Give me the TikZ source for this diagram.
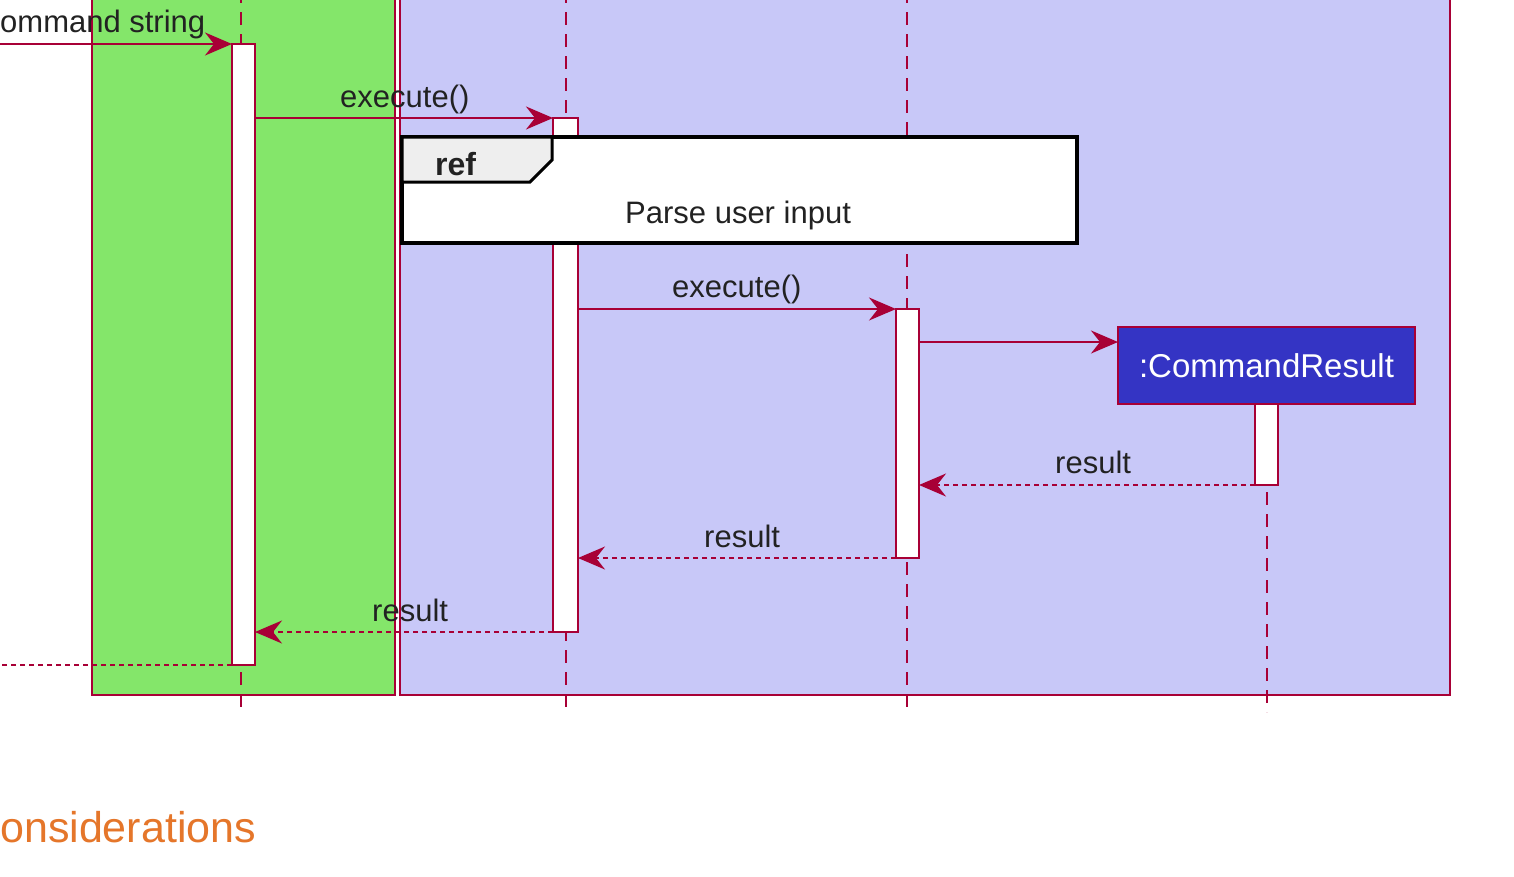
\documentclass[tikz,border=0pt]{standalone}
\usepackage{fontspec}
\setmainfont{Liberation Sans}
\usetikzlibrary{arrows.meta}
\definecolor{crim}{HTML}{A80036}
\definecolor{grn}{HTML}{84E66A}
\definecolor{lav}{HTML}{C8C8F8}
\definecolor{crblue}{HTML}{3434C4}
\definecolor{tabgray}{HTML}{EEEEEE}
\definecolor{headorange}{HTML}{E5762A}
\definecolor{txt}{HTML}{222222}
\begin{document}
\begin{tikzpicture}[x=1pt,y=-1pt,
  lifeline/.style={draw=crim, line width=1.8pt, dash pattern=on 13pt off 9pt},
  act/.style={rectangle, draw=crim, fill=white, line width=2pt, inner sep=0pt, outer sep=0pt, minimum width=23pt, anchor=north west},
  msg/.style={draw=crim, line width=2pt, -{Stealth[length=27pt,width=23pt,inset=9pt]}},
  ret/.style={msg, dash pattern=on 5pt off 4pt},
  retend/.style={draw=crim, line width=2pt, dash pattern=on 5pt off 4pt},
  lbl/.style={anchor=base west, inner sep=0pt, text=txt, font=\fontsize{31}{36}\selectfont},
  grp/.style={draw=crim, line width=2pt}
]
\useasboundingbox (0,0) rectangle (1514,876);
\clip (0,0) rectangle (1514,876);
\fill[white] (0,0) rectangle (1514,876);

% group boxes
\draw[grp, fill=grn] (92,-10) rectangle (395,695);
\draw[grp, fill=lav] (400,-10) rectangle (1450,695);

% lifelines
\coordinate (l1t) at (241,-10); \coordinate (l1b) at (241,712);
\coordinate (l2t) at (566,-10); \coordinate (l2b) at (566,712);
\coordinate (l3t) at (907,-10); \coordinate (l3b) at (907,712);
\coordinate (l4t) at (1267,404); \coordinate (l4b) at (1267,712);
\draw[lifeline] (l1t) -- (l1b);
\draw[lifeline] (l2t) -- (l2b);
\draw[lifeline] (l3t) -- (l3b);
\draw[lifeline] (l4t) -- (l4b);

% activations
\node[act, minimum height=621pt] (a1) at (232,44) {};
\node[act, minimum width=25pt, minimum height=514pt] (a2) at (553,118) {};
\node[act, minimum height=249pt] (a3) at (896,309) {};
\node[act, minimum height=81pt] (a4) at (1255,404) {};

% CommandResult participant
\node[rectangle, draw=crim, line width=2.5pt, fill=crblue, inner sep=0pt, outer sep=0pt,
      minimum width=297pt, minimum height=77pt, anchor=north west,
      text=white, font=\fontsize{33}{38}\selectfont] (cr) at (1118,327) {:CommandResult};

% ref frame
\node[rectangle, draw=black, line width=4pt, fill=white, inner sep=0pt, outer sep=0pt,
      minimum width=675pt, minimum height=106pt, anchor=north west] (ref) at (402,137) {};
\draw[black, line width=3pt, fill=tabgray, line join=miter]
  (ref.north west) -- (552,137) -- (552,160) -- (530,182) -- (ref.west |- 0,182) -- cycle;
\node[lbl, font=\bfseries\fontsize{32}{36}\selectfont] (reft) at (435,175) {ref};
\node[lbl] (parse) at (625,223) {Parse user input};

% messages
\coordinate (cin) at (-5,44);
\coordinate (cout) at (-5,665);
\draw[msg] (cin) -- (a1.north west);
\node[lbl] (m0) at (0,32) {ommand string};

\draw[msg] (a1.east |- a2.north) -- (a2.north west);
\node[lbl] (m1) at (340,107) {execute()};

\draw[msg] (a2.east |- a3.north) -- (a3.north west);
\node[lbl] (m2) at (672,297) {execute()};

\draw[msg] (a3.east |- 0,342) -- (cr.west |- 0,342);

\draw[ret] (a4.south west) -- (a3.east |- a4.south);
\node[lbl] (r1) at (1055,473) {result};

\draw[ret] (a3.south west) -- (a2.east |- a3.south);
\node[lbl] (r2) at (704,547) {result};

\draw[ret] (a2.south west) -- (a1.east |- a2.south);
\node[lbl] (r3) at (372,621) {result};

\draw[retend] (a1.south west) -- (cout);

% heading
\node[anchor=base west, inner sep=0pt, text=headorange, font=\fontsize{43}{50}\selectfont] (hd) at (0,842) {onsiderations};
\end{tikzpicture}
\end{document}
